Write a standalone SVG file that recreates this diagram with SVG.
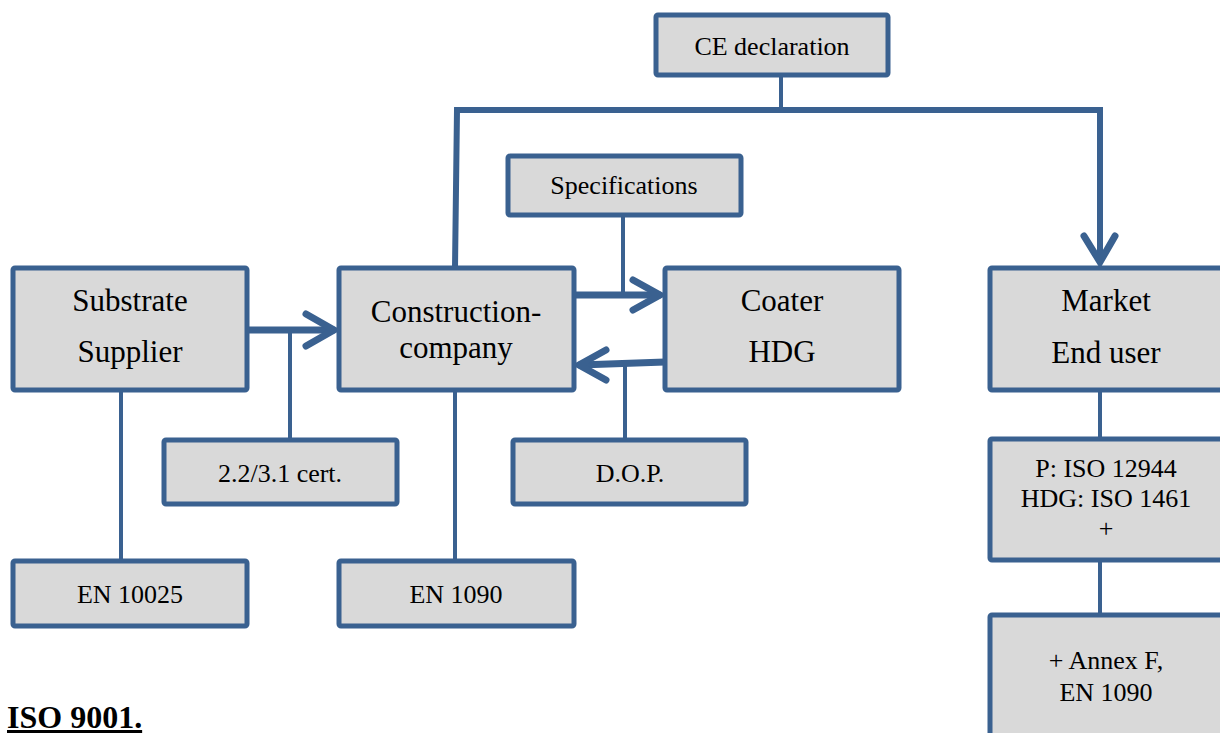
<svg xmlns="http://www.w3.org/2000/svg" width="1220" height="733" viewBox="0 0 1220 733">
<style>
.box{fill:#D9D9D9;stroke:#3A6190;stroke-width:5;stroke-linejoin:round}
.t{font-family:"Liberation Serif","Times New Roman",serif;fill:#000;text-anchor:middle}
.s{font-size:26px}
.b{font-size:31px}
.thin{stroke:#3A6190;stroke-width:4;fill:none}
.thick{stroke:#3A6190;stroke-width:6;fill:none}
.arr{stroke:#3A6190;stroke-width:7;fill:none;stroke-linecap:round;stroke-linejoin:miter}
</style>
<rect width="1220" height="733" fill="#fff"/>
<g id="connectors">
<line class="thin" x1="781" y1="76" x2="781" y2="108"/>
<polyline class="thick" points="455,268 457,110 1100,110 1100,262"/>
<polyline class="arr" points="1084,236 1100,262 1115,236"/>
<line class="arr" x1="247" y1="330" x2="333" y2="330"/>
<polyline class="arr" points="306,314 334,330 306,346"/>
<line class="thin" x1="290" y1="330" x2="290" y2="438"/>
<line class="thin" x1="121" y1="390" x2="121" y2="560"/>
<line class="thin" x1="455" y1="390" x2="455" y2="560"/>
<line class="arr" x1="574" y1="295" x2="659" y2="295"/>
<polyline class="arr" points="633,280 660,295 633,310"/>
<line class="thin" x1="623" y1="215" x2="623" y2="295"/>
<line class="arr" x1="665" y1="362" x2="580" y2="365"/>
<polyline class="arr" points="606,350 579,365 606,380"/>
<line class="thin" x1="625" y1="365" x2="625" y2="438"/>
<line class="thin" x1="1100" y1="390" x2="1100" y2="438"/>
<line class="thin" x1="1100" y1="560" x2="1100" y2="613"/>
</g>
<g id="ce"><rect class="box" x="656" y="15" width="232" height="60" rx="2"/><text class="t s" x="772" y="55">CE declaration</text></g>
<g id="spec"><rect class="box" x="508" y="156" width="233" height="59" rx="2"/><text class="t s" x="624" y="194">Specifications</text></g>
<g id="substrate"><rect class="box" x="13" y="268" width="234" height="122" rx="2"/><text class="t b" x="130" y="311">Substrate</text><text class="t b" x="130" y="362">Supplier</text></g>
<g id="construction"><rect class="box" x="339" y="268" width="235" height="122" rx="2"/><text class="t b" x="456" y="322">Construction-</text><text class="t b" x="456" y="358">company</text></g>
<g id="coater"><rect class="box" x="665" y="268" width="234" height="122" rx="2"/><text class="t b" x="782" y="311">Coater</text><text class="t b" x="782" y="362">HDG</text></g>
<g id="market"><rect class="box" x="990" y="268" width="240" height="122" rx="2"/><text class="t b" x="1106" y="311">Market</text><text class="t b" x="1106" y="363">End user</text></g>
<g id="cert"><rect class="box" x="164" y="440" width="233" height="64" rx="2"/><text class="t s" x="280" y="482">2.2/3.1 cert.</text></g>
<g id="dop"><rect class="box" x="513" y="440" width="233" height="64" rx="2"/><text class="t s" x="630" y="482">D.O.P.</text></g>
<g id="iso"><rect class="box" x="990" y="439" width="240" height="121" rx="2"/><text class="t s" x="1106" y="477">P: ISO 12944</text><text class="t s" x="1106" y="507">HDG: ISO 1461</text><text class="t s" x="1106" y="537">+</text></g>
<g id="annex"><rect class="box" x="990" y="615" width="240" height="130" rx="2"/><text class="t s" x="1106" y="669">+ Annex F,</text><text class="t s" x="1106" y="701">EN 1090</text></g>
<g id="en10025"><rect class="box" x="13" y="561" width="234" height="65" rx="2"/><text class="t s" x="130" y="603">EN 10025</text></g>
<g id="en1090"><rect class="box" x="339" y="561" width="235" height="65" rx="2"/><text class="t s" x="456" y="603">EN 1090</text></g>
<g id="iso9001"><text x="7" y="728" font-family="Liberation Serif, Times New Roman, serif" font-size="32" font-weight="bold" text-decoration="underline">ISO 9001.</text></g>
</svg>
